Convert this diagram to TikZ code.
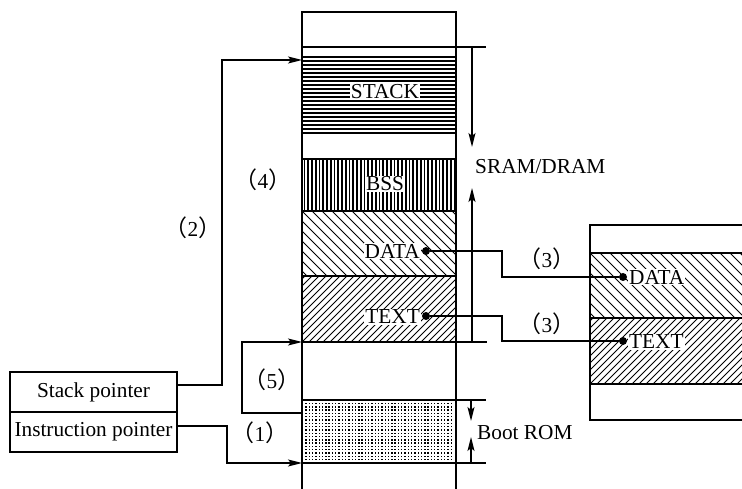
\documentclass[tikz,border=0pt]{standalone}
\usepackage{fontspec}
\setmainfont{Liberation Serif}
\newfontfamily\cjk{Noto Sans CJK SC}
\usetikzlibrary{arrows.meta}
\newcommand\plab[1]{{\cjk\fontsize{23}{26}\selectfont （}#1{\cjk\fontsize{23}{26}\selectfont ）}}
\begin{document}
\begin{tikzpicture}[x=1pt,y=-1pt,font=\fontsize{21.3}{25}\selectfont,
  wall/.style={line width=1.8pt},
  conn/.style={line width=1.4pt},
  arr/.style={conn,-{Stealth[length=14pt,width=7pt,inset=3pt]}},
  hatch/.style={line width=0.9pt},
  lbl/.style={fill=white,inner sep=1pt},
  plain/.style={inner sep=1pt},
  dot/.style={circle,fill=black,inner sep=0pt,minimum size=8pt},
  regbox/.style={draw,line width=1.6pt,minimum width=167pt,minimum height=40pt,inner sep=0pt}]
\useasboundingbox (0,0) rectangle (742,489);

% ---------- fills of main column ----------
\begin{scope}
  \clip (302,55) rectangle (456,135);
  \foreach \y in {57,61,...,133} \draw[line width=1.5pt] (302,\y) -- (456,\y);
\end{scope}
\begin{scope}
  \clip (302,159) rectangle (456,211);
  \foreach \x in {304.5,308.25,...,456} \draw[line width=1.7pt] (\x,159) -- (\x,211);
\end{scope}
\begin{scope}
  \clip (302,211) rectangle (456,276);
  \foreach \i in {-70,-60,...,160} \draw[hatch] (302+\i,211) -- ++(70,70);
\end{scope}
\begin{scope}
  \clip (302,276) rectangle (456,342);
  \foreach \i in {-70,-63,...,160} \draw[hatch] (302+\i,342) -- ++(70,-70);
\end{scope}
\foreach \x in {306,309.3,...,453}
  \foreach \y in {403.5,406.8,...,461}
    \fill (\x-0.7,\y-0.7) rectangle ++(1.4,1.4);

% ---------- fills of right column ----------
\begin{scope}
  \clip (590,253) rectangle (742,318);
  \foreach \i in {-70,-60,...,160} \draw[hatch] (590+\i,253) -- ++(70,70);
\end{scope}
\begin{scope}
  \clip (590,318) rectangle (742,384);
  \foreach \i in {-70,-63,...,160} \draw[hatch] (590+\i,384) -- ++(70,-70);
\end{scope}

% ---------- main column outline ----------
\draw[wall] (302,489) -- (302,12) -- (456,12) -- (456,489);
\draw[wall] (302,47) -- (486,47);
\draw[wall] (302,159) -- (456,159);
\draw[wall] (302,211) -- (456,211);
\draw[wall] (302,276) -- (456,276);
\draw[wall] (302,342) -- (487,342);
\draw[wall] (302,400) -- (486,400);
\draw[wall] (302,463) -- (486,463);

% ---------- right column outline ----------
\draw[wall] (742,225) -- (590,225) -- (590,420) -- (742,420);
\draw[wall] (590,253) -- (742,253);
\draw[wall] (590,318) -- (742,318);
\draw[wall] (590,384) -- (742,384);

% ---------- region labels ----------
\node[lbl] (stack) at (385,92) {STACK};
\node[lbl] (bss) at (385,184) {BSS};
\node[lbl,anchor=east] (data) at (421,251) {DATA};
\node[lbl,anchor=east] (text) at (421,317) {TEXT};
\node[lbl,anchor=west] (rdata) at (628,277) {DATA};
\node[lbl,anchor=west] (rtext) at (628,342) {TEXT};

\node[dot] (d1) at (426,251) {};
\node[dot] (t1) at (426,316) {};
\node[dot] (d2) at (623,277) {};
\node[dot] (t2) at (623,341) {};

% ---------- registers ----------
\node[regbox] (sp) at (93.5,392) {Stack pointer};
\node[regbox] (ip) at (93.5,432) {Instruction pointer};

% ---------- coordinates ----------
\coordinate (stackin) at (302,60);
\coordinate (romtop) at (302,413);
\coordinate (ramin) at (302,342);
\coordinate (romin) at (302,463);
\coordinate (sramtop) at (472,47);
\coordinate (sramdn) at (472,147);
\coordinate (srambot) at (472,342);
\coordinate (sramup) at (472,188);
\coordinate (boottop) at (471,400);
\coordinate (bootdn) at (471,421);
\coordinate (bootbot) at (471,463);
\coordinate (bootup) at (471,437);

% ---------- connectors ----------
\draw[arr] (sp.east |- 0,385) -| (222,385) |- (stackin);
\draw[arr] (ip.east |- 0,426) -| (227,426) |- (romin);
\draw[arr] (romtop) -| (242,342) -- (ramin);
\draw[conn] (d1) -- (502,251) |- (d2);
\draw[conn] (t1) -- (502,316) |- (t2);
\draw[arr] (sramtop) -- (sramdn);
\draw[arr] (srambot) -- (sramup);
\draw[arr] (boottop) -- (bootdn);
\draw[arr] (bootbot) -- (bootup);

% ---------- step labels ----------
\node[plain] (l2) at (193,228) {\plab{2}};
\node[plain] (l4) at (263,180) {\plab{4}};
\node[plain] (l5) at (272,380) {\plab{5}};
\node[plain] (l1) at (260,433) {\plab{1}};
\node[plain] (l3a) at (547,259) {\plab{3}};
\node[plain] (l3b) at (547,324) {\plab{3}};
\node[plain,anchor=west] (sram) at (474,167) {SRAM/DRAM};
\node[plain,anchor=west] (boot) at (476,433) {Boot ROM};
\end{tikzpicture}
\end{document}
